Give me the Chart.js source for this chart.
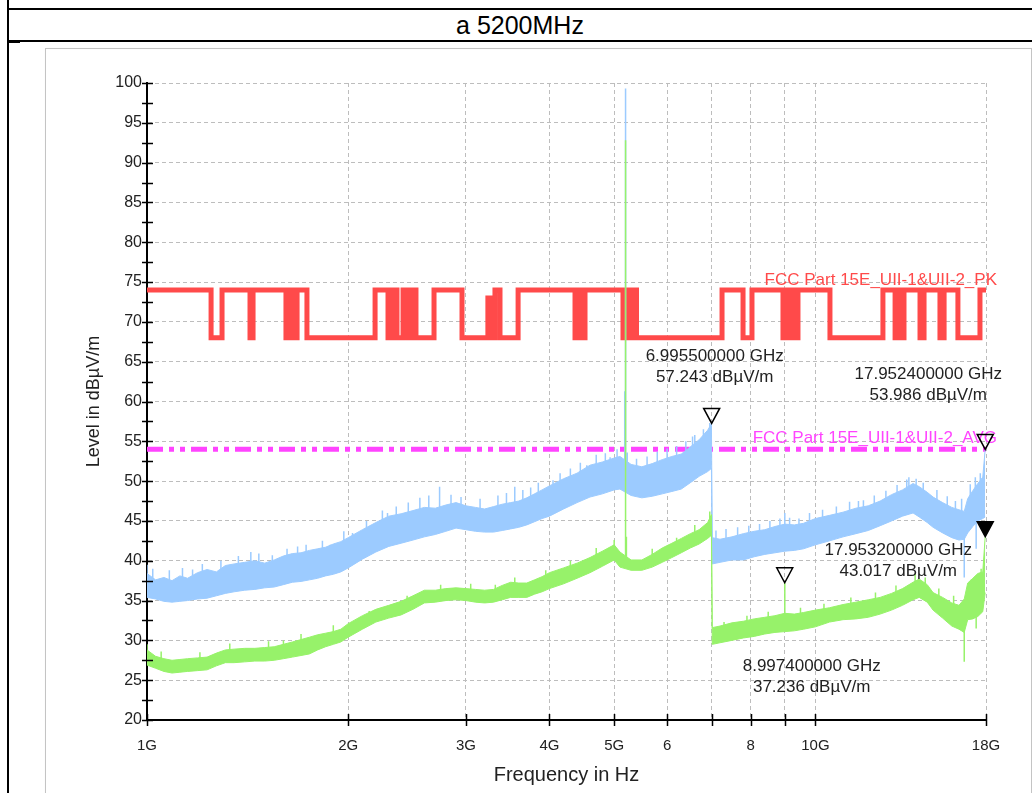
<!DOCTYPE html>
<html>
<head>
<meta charset="utf-8">
<script src="https://cdn.jsdelivr.net/npm/chart.js@4.4.0/dist/chart.umd.min.js"></script>
<style>
  body { margin: 0; background: #fff; font-family: "Liberation Sans", Arial, sans-serif; }
  #page { position: relative; width: 1032px; height: 793px; overflow: hidden; }
  .hl { position: absolute; background: #000; }
  #title { position: absolute; left: 8px; right: 0; top: 11px; text-align: center; font-size: 25px; color: #000; }
  #box { position: absolute; left: 45px; top: 48px; width: 985px; height: 760px; border: 1px solid #c4c4c4; box-shadow: 1px 1px 2px #ddd; }
  #chart { position: absolute; left: 46px; top: 49px; }
</style>
</head>
<body>
<div id="page">
  <div class="hl" style="left:8px;top:8px;width:1024px;height:2px"></div>
  <div class="hl" style="left:8px;top:40px;width:1024px;height:1.5px"></div>
  <div class="hl" style="left:7px;top:0;width:2px;height:793px"></div>
  <div class="hl" style="left:8px;top:41px;width:12px;height:2px"></div>
  <div id="title">a 5200MHz</div>
  <div id="box"></div>
  <canvas id="chart" width="982" height="744"></canvas>
</div>
<script>
// frequencies in GHz, levels in dBµV/m
const freqGHz = [1.00,1.03,1.06,1.09,1.12,1.15,1.19,1.23,1.27,1.31,1.35,1.40,1.45,1.50,1.55,1.60,1.65,1.70,1.75,1.80,1.85,1.90,1.95,
  2.0,2.1,2.2,2.3,2.4,2.5,2.6,2.7,2.8,2.9,3.0,3.1,3.2,3.3,3.4,3.5,3.6,3.7,3.8,3.9,4.0,
  4.2,4.4,4.6,4.8,5.0,5.1,5.3,5.5,5.7,5.9,6.1,6.3,6.5,6.7,6.9,6.99,
  7.01,7.2,7.5,7.8,8.1,8.4,8.7,9.0,9.3,9.6,
  10.0,10.5,11.0,11.5,12.0,12.5,13.0,13.5,14.0,14.3,14.7,15.0,15.5,16.0,16.4,16.7,16.9,17.2,17.5,17.8,17.95];

// peak trace (blue): upper and lower edge of the noise band
const peakHi = [38.4,37.6,37.9,37.5,38.1,37.8,38.5,38.9,38.6,39.4,39.6,39.8,40.0,39.7,40.1,40.6,40.9,41.0,41.3,41.5,41.7,42.1,42.4,
  42.9,43.9,44.8,45.6,45.9,46.3,46.7,46.6,47.0,47.3,46.9,46.7,46.5,46.8,47.1,47.3,47.5,47.9,48.4,48.9,49.4,
  50.3,51.0,52.0,52.4,52.9,53.1,52.1,51.8,52.2,52.7,53.1,53.4,54.3,55.2,56.4,57.2,
  42.9,42.7,43.0,43.4,43.7,43.9,44.3,44.6,44.5,44.7,
  45.3,45.7,46.1,46.6,46.9,47.5,48.3,48.9,49.7,49.3,48.6,48.0,47.3,46.7,46.4,46.2,47.8,48.8,49.7,50.5,54.0];
const peakLo = [35.4,35.2,34.9,34.8,34.9,35.0,35.2,35.3,35.6,35.9,36.1,36.3,36.4,36.6,36.7,37.0,37.3,37.4,37.6,37.8,38.1,38.3,38.6,
  39.1,40.2,41.1,41.8,42.2,42.6,43.0,43.3,43.7,44.1,43.9,43.7,43.6,43.6,43.8,44.0,44.2,44.5,44.9,45.3,45.6,
  46.5,47.3,48.0,48.4,48.9,49.0,48.2,47.9,48.1,48.4,48.7,49.0,49.8,50.6,51.2,51.6,
  39.6,39.8,40.1,40.1,40.5,40.8,41.0,41.2,41.3,41.5,
  42.0,42.5,43.0,43.4,43.8,44.4,45.0,45.6,46.0,45.5,44.8,44.2,43.5,42.9,42.6,42.7,43.5,44.3,45.0,45.3,45.5];

// average trace (green)
const avgHi = [28.8,28.0,27.7,27.5,27.6,27.7,27.8,27.9,28.4,28.8,28.9,29.0,29.0,29.1,29.2,29.5,29.8,30.1,30.4,30.7,30.9,31.1,31.4,
  32.1,33.1,33.9,34.4,34.9,35.6,36.3,36.3,36.5,36.6,36.5,36.4,36.3,36.4,36.9,37.3,37.2,37.2,37.6,38.0,38.5,
  39.1,39.7,40.4,41.2,42.0,41.1,40.1,40.1,40.8,41.6,42.2,42.8,43.4,43.9,44.8,45.8,
  31.6,31.8,32.2,32.4,32.7,32.9,33.1,33.4,33.3,33.5,
  33.8,34.1,34.5,34.8,35.1,35.4,35.9,36.5,37.3,37.7,37.0,36.0,35.4,34.7,34.4,35.2,37.2,37.8,38.4,38.6,43.0];
const avgLo = [26.9,26.5,26.1,25.9,26.0,26.1,26.2,26.3,26.8,27.2,27.2,27.3,27.4,27.4,27.5,27.7,27.9,28.1,28.3,28.8,29.2,29.5,29.8,
  30.4,31.4,32.3,32.8,33.2,33.9,34.7,34.8,35.0,35.1,35.0,34.8,34.7,34.8,35.1,35.4,35.4,35.4,35.8,36.1,36.5,
  37.1,37.8,38.5,39.3,40.1,39.2,38.8,38.8,39.2,39.8,40.4,41.0,41.6,42.1,42.8,43.2,
  29.5,29.7,30.0,30.3,30.5,30.8,31.0,31.1,31.2,31.4,
  31.7,32.3,32.6,32.7,32.9,33.3,33.8,34.4,35.1,35.4,34.8,33.8,32.8,31.8,31.4,31.0,32.6,32.7,33.0,33.6,36.0];

// single-bin spikes: frequency, foot, tip (tip below foot = downward spike)
const peakSpikeFreq = [1.0,1.02,1.08,1.13,1.17,1.21,1.29,1.37,1.43,1.47,1.54,1.62,1.68,1.73,1.83,1.88,1.97,2.03,2.13,2.25,2.29,2.36,
  2.46,2.56,2.64,2.74,2.85,2.95,3.15,3.35,3.45,3.55,3.65,3.75,3.85,4.05,4.15,4.3,4.45,4.55,4.7,4.85,4.93,5.05,
  5.185,5.2,5.23,5.4,5.6,5.8,6.0,6.2,6.4,6.55,6.6,6.8,6.95,
  7.1,7.35,7.65,7.95,8.25,8.55,8.85,9.0,9.15,9.45,9.8,10.25,10.75,11.25,11.6,11.8,12.25,12.75,13.25,13.7,13.8,
  14.15,14.5,15.2,15.75,16.2,16.55,16.7,17.05,17.35,17.4,17.65];
const peakSpikeFoot = [36,36,36.5,36,36.5,37,37,37.5,37,38,37,38.5,38.5,39,39.5,39,40.5,40,42,43,42,43.5,
  44,44.5,45,44,45.5,45.5,45,45,45.5,44.5,46,46.5,47,46,48,48.5,49,48,50,50,49,50.5,
  49,49,48.5,49.5,49.5,50,50.5,51,51.5,50,52,53,54,
  41,41.5,41.5,42,42,42.5,43,41.5,43,43,43.5,44,44,45,43.5,45,45.5,46,47,47.5,46,
  47.5,47,46,45,44.5,44.5,44,46,46.5,46,47];
const peakSpikeTip  = [39.5,39.0,38.8,39.1,38.9,39.6,40.0,40.6,41.1,40.9,40.7,41.5,41.8,42.0,42.5,42.0,43.7,43.5,45.0,46.3,46.0,46.8,
  47.3,47.9,48.2,49.3,48.3,48.0,47.8,48.2,48.5,49.3,48.9,49.2,49.8,50.1,51.0,51.6,52.3,52.0,53.3,53.5,53.0,54.0,
  61.3,99.3,53.6,52.8,53.1,53.7,54.1,54.4,55.0,55.6,55.8,56.5,57.3,
  43.8,44.0,44.2,44.4,44.6,45.0,45.3,46.0,45.4,45.3,46.0,46.4,46.8,47.4,47.5,47.6,48.2,48.8,49.5,50.2,50.5,
  50.3,49.8,48.9,48.1,47.5,47.8,37.9,49.6,50.5,41.5,51.0];
const avgSpikeFreq = [1.0,1.05,1.2,1.33,1.52,1.6,1.7,1.9,2.15,2.45,2.75,3.05,3.32,3.55,3.95,4.3,4.7,5.0,5.2,5.215,5.7,6.2,6.6,6.95,
  7.3,7.9,8.5,9.0,9.5,10.3,11.3,12.3,13.2,14.1,14.6,15.3,16.1,16.7,17.1,17.4,17.7];
const avgSpikeFoot = [27,27,27,28,28.5,28,29,30.5,32,34,35.5,35.5,35.5,36,37,38,39.5,41,39.5,39.5,40,41,42.5,44,
  30.5,31,31.5,31.5,32,32.5,33.5,34,35,36,36,34.5,33,33,34,35,35];
const avgSpikeTip  = [29.5,28.6,28.5,29.6,29.9,30.0,30.8,31.9,33.7,35.6,37.0,37.1,37.0,37.9,38.8,40.0,41.6,42.6,92.8,43.0,41.5,42.9,44.5,46.2,
  32.3,33.1,33.6,37.2,34.1,34.6,35.4,36.0,36.9,38.4,37.9,36.5,35.6,27.3,37.6,31.5,39.0];

// limit lines
const pkLimitFreq = [1.0,1.247,1.295,1.426,1.441,1.614,1.626,1.637,1.648,1.660,1.677,1.735,2.194,2.294,2.310,2.334,2.350,2.366,2.416,
  2.458,2.475,2.500,2.515,2.526,2.688,2.960,3.236,3.270,3.316,3.374,3.591,4.369,4.40,4.43,4.46,4.49,4.522,5.154,5.244,5.30,5.34,5.40,
  7.25,7.794,8.038,8.944,9.04,9.13,9.226,9.32,9.418,10.515,12.62,13.16,13.29,13.43,13.57,14.34,14.54,15.36,15.58,16.34,17.63,18.0];
const pkLimitLevel = [74,68,74,68,74,68,74,68,74,68,74,68,74,68,74,68,74,68,74,
  68,74,68,74,68,74,68,73,68,74,68,74,68,74,68,74,68,74,68,74,68,74,68,
  74,68,74,68,74,68,74,68,74,68,74,68,74,68,74,68,74,68,74,68,74,74];
const avgLimitLevel = 54;
const limitNames = ['FCC Part 15E_UII-1&UII-2_PK', 'FCC Part 15E_UII-1&UII-2_AVG'];

// markers
const markerFreq = [6.9955, 17.9524, 8.9974, 17.9532];
const markerLevel = [57.243, 53.986, 37.236, 43.017];
const markerFilled = [false, false, false, true];

// axis ticks
const xTickValues = [1, 2, 3, 4, 5, 6, 7, 8, 9, 10, 18];
const xTickLabels = ['1G', '2G', '3G', '4G', '5G', '6', '', '8', '', '10G', '18G'];

const FONT = '"Liberation Sans", Arial, sans-serif';
const BLUE = '#9ccbff';
const GREEN = '#97f26a';
const RED = '#ff4a4a';
const MAG = '#ff44ff';

const toXY = (xs, ys) => xs.map((x, i) => ({ x: x, y: ys[i] }));
const spikes = (fs, foot, tip) => {
  const out = [];
  fs.forEach((f, i) => { out.push({ x: f, y: foot[i] }, { x: f, y: tip[i] }, { x: f, y: null }); });
  return out;
};

// label offsets (px) of each marker's text from the marker point
const labelOffsets = [[3, -67], [-57, -75], [27, 84], [-87, 14]];

const extras = {
  id: 'extras',
  afterDatasetsDraw(chart) {
    const { ctx, chartArea: a, scales: { x, y } } = chart;
    ctx.save();
    ctx.strokeStyle = '#000';
    ctx.lineWidth = 1.5;
    ctx.beginPath();
    for (let v = 20; v <= 100; v += 2.5) {
      const py = Math.round(y.getPixelForValue(v)) + 0.5;
      ctx.moveTo(a.left - 5, py); ctx.lineTo(a.left + 6, py);
    }
    xTickValues.forEach(v => {
      const px = Math.round(x.getPixelForValue(v)) + 0.5;
      ctx.moveTo(px, a.bottom - 6); ctx.lineTo(px, a.bottom + 6);
    });
    ctx.stroke();

    ctx.font = '17px ' + FONT;
    ctx.textAlign = 'right';
    ctx.textBaseline = 'middle';
    ctx.fillStyle = RED;
    ctx.fillText(limitNames[0], a.right + 11, y.getPixelForValue(74) - 10);
    ctx.fillStyle = MAG;
    ctx.fillText(limitNames[1], a.right + 11, y.getPixelForValue(avgLimitLevel) - 11);

    markerFreq.forEach((f, i) => {
      const px = x.getPixelForValue(f), py = y.getPixelForValue(markerLevel[i]);
      ctx.beginPath();
      ctx.moveTo(px, py);
      ctx.lineTo(px - 8, py - 15);
      ctx.lineTo(px + 8, py - 15);
      ctx.closePath();
      ctx.lineWidth = 1.5;
      ctx.strokeStyle = '#000';
      if (markerFilled[i]) { ctx.fillStyle = '#000'; ctx.fill(); }
      ctx.stroke();
      const [dx, dy] = labelOffsets[i];
      ctx.fillStyle = '#222';
      ctx.textAlign = 'center';
      ctx.fillText(f.toFixed(9) + ' GHz', px + dx, py + dy);
      ctx.fillText(markerLevel[i].toFixed(3) + ' dBµV/m', px + dx, py + dy + 21);
    });
    ctx.restore();
  }
};

new Chart(document.getElementById('chart').getContext('2d'), {
  type: 'line',
  data: {
    datasets: [
      { data: toXY(freqGHz, peakHi), borderColor: BLUE, backgroundColor: BLUE, borderWidth: 1, fill: '+1', order: 3 },
      { data: toXY(freqGHz, peakLo), borderColor: BLUE, borderWidth: 1, fill: false, order: 3 },
      { data: spikes(peakSpikeFreq, peakSpikeFoot, peakSpikeTip), borderColor: BLUE, borderWidth: 1.5, fill: false, spanGaps: false, order: 3 },
      { data: toXY(freqGHz, avgHi), borderColor: GREEN, backgroundColor: GREEN, borderWidth: 1, fill: '+1', order: 1 },
      { data: toXY(freqGHz, avgLo), borderColor: GREEN, borderWidth: 1, fill: false, order: 1 },
      { data: spikes(avgSpikeFreq, avgSpikeFoot, avgSpikeTip), borderColor: GREEN, borderWidth: 1.5, fill: false, spanGaps: false, order: 1 },
      { data: toXY(pkLimitFreq, pkLimitLevel), borderColor: RED, borderWidth: 5, stepped: 'before', fill: false, order: 5 },
      { data: [{ x: 1, y: avgLimitLevel }, { x: 18, y: avgLimitLevel }], borderColor: MAG, borderWidth: 5,
        borderDash: [16, 6, 5, 6, 5, 6], fill: false, order: 5 }
    ]
  },
  options: {
    responsive: false,
    animation: false,
    layout: { padding: { top: 34, right: 42, left: 0, bottom: 0 } },
    elements: { point: { radius: 0 }, line: { tension: 0 } },
    plugins: { legend: { display: false }, tooltip: { enabled: false } },
    scales: {
      x: {
        type: 'logarithmic',
        min: 1,
        max: 18,
        afterBuildTicks: s => { s.ticks = xTickValues.map(v => ({ value: v })); },
        afterFit: s => { s.height = 73; },
        ticks: {
          autoSkip: false, maxRotation: 0, padding: 17, color: '#222',
          font: { family: FONT, size: 15 },
          callback: (v, i) => xTickLabels[i]
        },
        grid: { color: '#bdbdbd', lineWidth: 1, drawTicks: false },
        border: { color: '#000', width: 2, dash: [4, 3] },
        title: { display: true, text: 'Frequency in Hz', color: '#222', font: { family: FONT, size: 20 }, padding: { top: 0, bottom: 6 } }
      },
      y: {
        min: 20,
        max: 100,
        afterFit: s => { s.width = 101; },
        ticks: {
          stepSize: 2.5, padding: 5, color: '#222',
          font: { family: FONT, size: 16 },
          callback: v => (v % 5 === 0 ? String(v) : '')
        },
        grid: { color: '#bdbdbd', lineWidth: 1, drawTicks: false },
        border: { color: '#000', width: 2, dash: [4, 3] },
        title: { display: true, text: 'Level in dBµV/m', color: '#222', font: { family: FONT, size: 18 }, padding: { top: 37, bottom: 0 } }
      }
    }
  },
  plugins: [extras]
});
</script>
</body>
</html>
